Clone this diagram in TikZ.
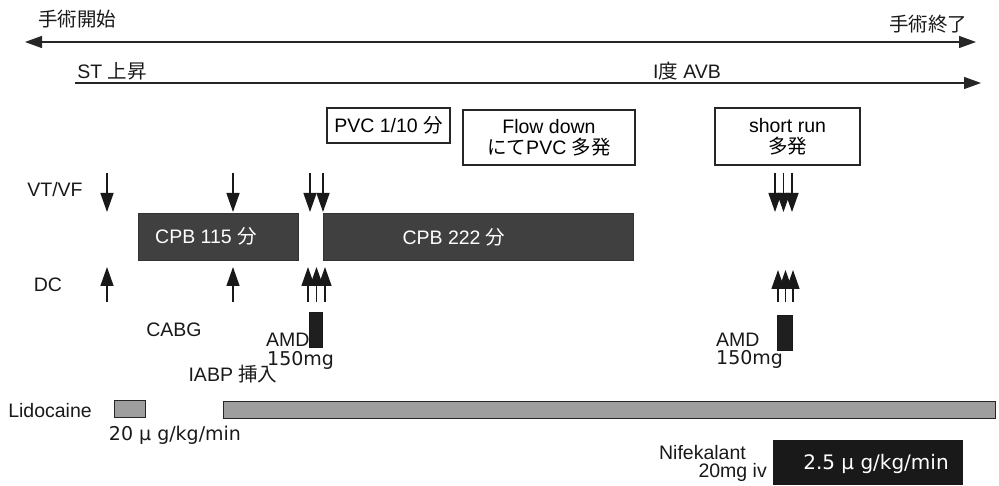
\documentclass[tikz,border=0pt]{standalone}
\usepackage{fontspec}
\setmainfont{Liberation Sans}
\newfontfamily\jp{Noto Sans CJK JP}
\newfontfamily\dv{DejaVu Sans}
\usetikzlibrary{arrows.meta}
\newcommand\J[1]{{\jp #1}}
\begin{document}
\begin{tikzpicture}[x=1pt,y=-1pt,
  txt/.style={font=\fontsize{19.5}{23}\selectfont, inner sep=0pt, text=black!90},
  dvtxt/.style={font=\dv\fontsize{19}{23}\selectfont, inner sep=0pt, text=black!90},
  tl/.style={line width=1.3pt, draw=black!85},
  ev/.style={line width=1.3pt, draw=black!90},
  textbox/.style={draw=black!85, line width=1.1pt, fill=white, inner sep=0pt, align=center,
    font=\fontsize{19.5}{23}\selectfont},
  cpbbox/.style={fill=black!75, draw=black!80, line width=0.8pt, inner sep=0pt},
  cpbtxt/.style={font=\fontsize{19.5}{23}\selectfont, text=white, inner sep=0pt},
  amdbar/.style={fill=black!88, draw=black!90, inner sep=0pt},
  lidobar/.style={fill=black!38, draw=black!85, line width=1pt, inner sep=0pt},
  nifbox/.style={fill=black!90, draw=black!90, inner sep=0pt}
]
\useasboundingbox (0,0) rectangle (999,486);

% top timelines
\node[txt] (start) at (77,19) {\J{手術開始}};
\node[txt] (end) at (928,24) {\J{手術終了}};
\coordinate (opL) at (25,42);
\coordinate (opR) at (976,42);
\draw[tl, {Triangle[length=17pt,width=12pt]}-{Triangle[length=17pt,width=12pt]}] (opL) -- (opR);

\node[txt] (st) at (112,71) {ST \J{上昇}};
\node[txt] (avb) at (687,71) {I\J{度} AVB};
\coordinate (stL) at (75,83);
\coordinate (stR) at (981,83);
\draw[tl, -{Triangle[length=17pt,width=12pt]}] (stL) -- (stR);

% text boxes
\node[textbox, minimum width=123pt, minimum height=35pt] (pvc) at (388.5,125.5) {PVC 1/10 \J{分}};
\node[textbox, minimum width=172pt, minimum height=55pt] (flow) at (549,137.5) {Flow down\\[-2pt]\J{にて}PVC \J{多発}};
\node[textbox, minimum width=145pt, minimum height=57pt] (short) at (787.5,136.5) {short run\\[-2pt]\J{多発}};

% row labels
\node[txt] (vtvf) at (55,190) {VT/VF};
\node[txt] (dc) at (48,285) {DC};
\node[txt] (cabg) at (174,330) {CABG};
\node[txt] (iabp) at (233,374) {IABP \J{挿入}};

% CPB boxes
\node[cpbbox, minimum width=160pt, minimum height=47pt] (cpb1) at (218,236.5) {};
\node[cpbtxt] (cpb1t) at (206,236.5) {CPB 115 \J{分}};
\node[cpbbox, minimum width=310pt, minimum height=47pt] (cpb2) at (478,237) {};
\node[cpbtxt] (cpb2t) at (454,237) {CPB 222 \J{分}};

% VT/VF arrows (down)
\foreach \n/\x in {v1/107, v2/233, v3/310, v4/323, v5/775, v6/783.5, v7/792}{
  \coordinate (\n a) at (\x,173);
  \coordinate (\n b) at (\x,212);
  \draw[ev, -{Triangle[length=19pt,width=13pt]}] (\n a) -- (\n b);
}
% DC arrows (up)
\foreach \n/\x/\t in {d1/107/267, d2/233/267, d3/308/267, d4/316.5/267, d5/325/267, d6/778/270, d7/785.5/270, d8/793/270}{
  \coordinate (\n a) at (\x,302);
  \coordinate (\n b) at (\x,\t);
  \draw[ev, -{Triangle[length=19pt,width=13pt]}] (\n a) -- (\n b);
}

% AMD
\node[amdbar, minimum width=13pt, minimum height=35pt] (amd1bar) at (315.5,329.5) {};
\node[txt, anchor=west] (amd1) at (266,340) {AMD};
\node[dvtxt, anchor=west] (amd1d) at (267,360) {150mg};
\node[amdbar, minimum width=15pt, minimum height=35pt] (amd2bar) at (784.5,332.5) {};
\node[txt, anchor=west] (amd2) at (716,340) {AMD};
\node[dvtxt, anchor=west] (amd2d) at (716,359) {150mg};

% Lidocaine
\node[txt] (lido) at (50,411) {Lidocaine};
\node[lidobar, minimum width=31pt, minimum height=17pt] (lido1) at (129.5,408.5) {};
\node[lidobar, minimum width=772pt, minimum height=17pt] (lido2) at (609,409.5) {};
\node[dvtxt] (lidodose) at (175,435) {20 μ g/kg/min};

% Nifekalant
\node[txt, anchor=east] (nif) at (746,453) {Nifekalant};
\node[txt, anchor=east] (nifd) at (767,472) {20mg iv};
\node[nifbox, minimum width=189pt, minimum height=44pt] (nifbar) at (867.5,462) {};
\node[dvtxt, text=white, font=\dv\fontsize{20}{23}\selectfont] (nift) at (876,464) {2.5 μ g/kg/min};
\end{tikzpicture}
\end{document}
